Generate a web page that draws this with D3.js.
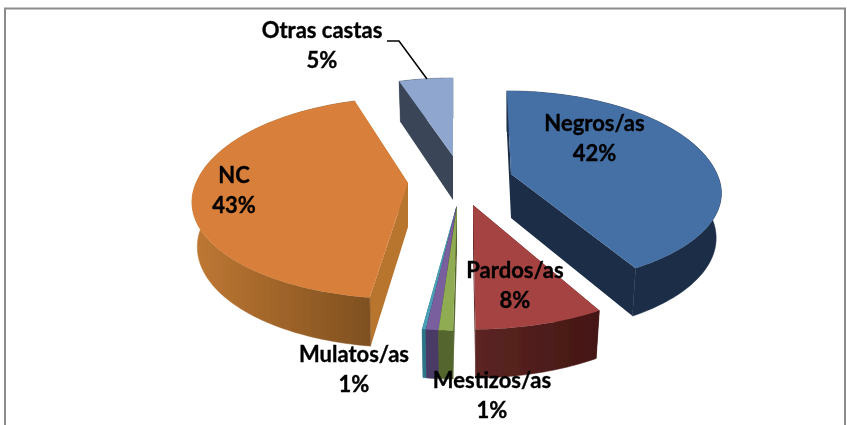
<!DOCTYPE html>
<html><head><meta charset="utf-8">
<style>html,body{margin:0;padding:0;background:#fff}svg{display:block}
text{font-family:Lato,"Open Sans",sans-serif;font-weight:700;fill:#000;stroke:#000;stroke-width:.35px;font-size:22px;text-anchor:middle}</style>
<script src="https://cdn.jsdelivr.net/npm/d3@7"></script></head><body>
<svg id="c" width="847" height="425"></svg>
<script>
const categories = ["Negros/as","Pardos/as","Mestizos/as","Mulatos/as","","NC","Otras castas"];
const values = [42,8,1,1,0.3,43,5];
const labels = ["42%","8%","1%","1%","","43%","5%"];
const topColors = ["#4470a6","#a54342","#8fac52","#7a5f9f","#4aa0b5","#d8803a","#8fa6cf"];
const wallLeft = ["#1b2d47","#5c2523","#54652f","#4a3a66","#2b7486","#bf7833","#3b4559"];
const wallRight = ["#1b2d47","#441614","#54652f","#4a3a66","#2b7486","#7f5020","#3b4559"];
const faceColors = ["#1b2d47","#5c2523","#54652f","#4a3a66","#2b7486","#b8742f","#3b4559"];
const apexX = [511,473,457,456.5,456.5,408,453];
const apexY = [174,205,206,206,206,183,156];
const ryBack = [98,102,102,102,102,101,92];
const ryFront = [91,102,102,102,102,95,92];
const skew = [5,0,-5,-5.5,-5.5,-3,0];
const radiusX = [206,218,190,170,170,212,205];
const drawOrder = [6,5,0,4,3,2,1];
const labelX = [594.5,515,492,354,0,234,322];
const labelY = [131,278,388,362,0,183,38];
const persp = 0.18, depth = 44, bottomShrink = 0.975, lineGap = 29.5;

const svg = d3.select("#c");
const defs = svg.append("defs");
defs.append("filter").attr("id","soft").append("feGaussianBlur").attr("stdDeviation",0.45);
const chart = svg.append("g").attr("filter","url(#soft)");
chart.append("rect").attr("x",5).attr("y",8.5).attr("width",840).attr("height",440)
  .attr("fill","#fff").attr("stroke","#8c8c8c").attr("stroke-width",2);

const arcs = d3.pie().sort(null)(values);
const lineGen = d3.line().x(d=>d[0]).y(d=>d[1]);
function proj(i,theta,r){
  const X=r*Math.sin(theta),Y=-r*Math.cos(theta),p=1/(1-persp*Y);
  const ry=Y<0?ryBack[i]:ryFront[i];
  return {x:apexX[i]+(radiusX[i]*X+skew[i]*Y)*p,y:apexY[i]+ry*Y*p,p};
}
const below=(q,i)=>[apexX[i]+(q.x-apexX[i])*bottomShrink,q.y+depth*Math.sqrt(q.p)];
drawOrder.forEach(i=>{
  const a=arcs[i],g=chart.append("g");
  const n=Math.max(4,Math.ceil((a.endAngle-a.startAngle)/0.02));
  const ts=d3.range(n+1).map(k=>a.startAngle+(a.endAngle-a.startAngle)*k/n);
  const rim=ts.map(t=>proj(i,t,1));
  const c=proj(i,0,0);
  [rim[0],rim[n]].forEach(q=>{
    g.append("path").attr("d",lineGen([[c.x,c.y],[q.x,q.y],below(q,i),below(c,i)])+"Z").attr("fill",faceColors[i]);
  });
  const xr=d3.extent(rim,q=>q.x);
  const gid="w"+i;
  const lg=defs.append("linearGradient").attr("id",gid).attr("gradientUnits","userSpaceOnUse")
    .attr("x1",xr[0]).attr("x2",xr[1]===xr[0]?xr[0]+1:xr[1]).attr("y1",0).attr("y2",0);
  lg.append("stop").attr("offset",0).attr("stop-color",wallLeft[i]);
  lg.append("stop").attr("offset",1).attr("stop-color",wallRight[i]);
  const band=[...rim.map(q=>[q.x,q.y]),...rim.slice().reverse().map(q=>below(q,i))];
  g.append("path").attr("d",lineGen(band)+"Z").attr("fill",`url(#${gid})`).attr("stroke",`url(#${gid})`).attr("stroke-width",.5);
  g.append("path").attr("d",lineGen([[c.x,c.y],...rim.map(q=>[q.x,q.y])])+"Z").attr("fill",topColors[i]);
});
chart.append("path").attr("d",lineGen([[387,41],[399,41],[427,79]])).attr("fill","none").attr("stroke","#000").attr("stroke-width",1.5);
categories.forEach((c,i)=>{
  if(!c) return;
  chart.append("text").attr("x",labelX[i]).attr("y",labelY[i]).text(c);
  chart.append("text").attr("x",labelX[i]).attr("y",labelY[i]+lineGap).text(labels[i]);
});
</script></body></html>
